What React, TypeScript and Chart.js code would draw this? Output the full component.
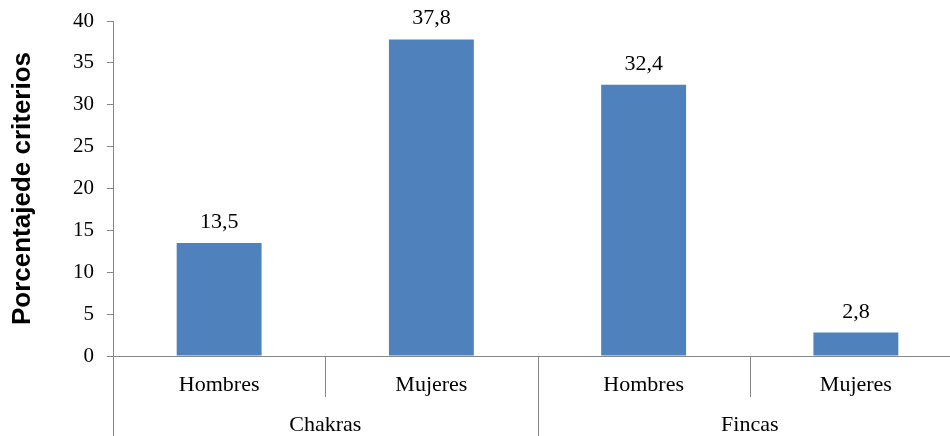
import React, { useEffect, useRef } from "react";
import { Chart, registerables } from "chart.js";

Chart.register(...registerables);

const categories = ["Hombres", "Mujeres", "Hombres", "Mujeres"];
const groups = ["Chakras", "Fincas"];
const groupSizes = [2, 2];
const values = [13.5, 37.8, 32.4, 2.8];
const yMin = 0;
const yMax = 40;
const yStep = 5;
const yTitle = "Porcentajede criterios";

const AXIS = "#868686";
const BAR = "#4F81BD";
const SERIF = "'Liberation Serif', 'Times New Roman', serif";
const SANS = "'Liberation Sans', Arial, sans-serif";

const CANVAS_W = 970;
const CANVAS_H = 436;

const hierPlugin = {
  id: "hierPlugin",
  afterDraw(chart: any) {
    const { ctx, chartArea } = chart;
    const x = chart.scales.x;
    const n = categories.length;
    const px = (i: number) => x.getPixelForValue(i);
    const bounds: number[] = [];
    for (let i = 0; i <= n; i++) {
      if (i === 0) bounds.push(x.left);
      else if (i === n) bounds.push(x.right);
      else bounds.push((px(i - 1) + px(i)) / 2);
    }
    const groupStarts = new Set<number>();
    let acc = 0;
    groupStarts.add(0);
    groupSizes.forEach((s) => {
      acc += s;
      groupStarts.add(acc);
    });
    const base = chartArea.bottom;
    ctx.save();
    ctx.strokeStyle = AXIS;
    ctx.lineWidth = 1;
    bounds.forEach((b, i) => {
      const xx = Math.round(b) + 0.5;
      ctx.beginPath();
      ctx.moveTo(xx, base);
      ctx.lineTo(xx, groupStarts.has(i) ? chart.height : base + 41);
      ctx.stroke();
    });
    ctx.fillStyle = "#000";
    ctx.textAlign = "center";
    ctx.textBaseline = "alphabetic";
    ctx.font = `22px ${SERIF}`;
    categories.forEach((c, i) => {
      ctx.fillText(c, px(i), base + 35);
    });
    let start = 0;
    groups.forEach((g, gi) => {
      const end = start + groupSizes[gi];
      const cx = (bounds[start] + bounds[end]) / 2;
      ctx.fillText(g, cx, base + 75);
      start = end;
    });
    const meta = chart.getDatasetMeta(0);
    meta.data.forEach((el: any, i: number) => {
      const label = values[i].toFixed(1).replace(".", ",");
      ctx.fillText(label, el.x, el.y - 15);
    });
    ctx.translate(23, (chartArea.top + chartArea.bottom) / 2);
    ctx.rotate(-Math.PI / 2);
    ctx.font = `bold 26px ${SANS}`;
    ctx.textBaseline = "middle";
    ctx.fillText(yTitle, 0, 0);
    ctx.restore();
  },
};

export default function App() {
  const ref = useRef<HTMLCanvasElement | null>(null);
  useEffect(() => {
    if (!ref.current) return;
    const chart = new Chart(ref.current, {
      type: "bar",
      data: {
        labels: categories,
        datasets: [
          {
            data: values,
            backgroundColor: BAR,
            borderWidth: 0,
            barPercentage: 0.4,
            categoryPercentage: 1,
          },
        ],
      },
      options: {
        animation: false,
        responsive: false,
        devicePixelRatio: 1,
        events: [],
        layout: { padding: { top: 21, right: CANVAS_W - 962, left: 0, bottom: 0 } },
        plugins: { legend: { display: false }, tooltip: { enabled: false } },
        scales: {
          x: {
            offset: true,
            grid: { display: false },
            border: { display: true, color: AXIS, width: 1 },
            ticks: { display: false },
            afterFit: (s: any) => {
              s.height = 80;
              s.paddingLeft = 0;
              s.paddingRight = 0;
            },
          },
          y: {
            min: yMin,
            max: yMax,
            grid: {
              display: true,
              drawOnChartArea: false,
              drawTicks: true,
              tickLength: 6,
              color: AXIS,
            },
            border: { display: true, color: AXIS, width: 1 },
            ticks: {
              stepSize: yStep,
              padding: 13,
              color: "#000",
              font: { family: SERIF, size: 21 },
            },
            afterFit: (s: any) => {
              s.width = 113;
              s.paddingTop = 0;
              s.paddingBottom = 0;
            },
          },
        },
      },
      plugins: [hierPlugin],
    });
    return () => chart.destroy();
  }, []);
  return (
    <div
      style={{
        position: "fixed",
        left: 0,
        top: 0,
        width: 950,
        height: 436,
        overflow: "hidden",
        background: "#fff",
      }}
    >
      <canvas
        ref={ref}
        width={CANVAS_W}
        height={CANVAS_H}
        style={{ display: "block", width: CANVAS_W, height: CANVAS_H }}
      />
    </div>
  );
}
